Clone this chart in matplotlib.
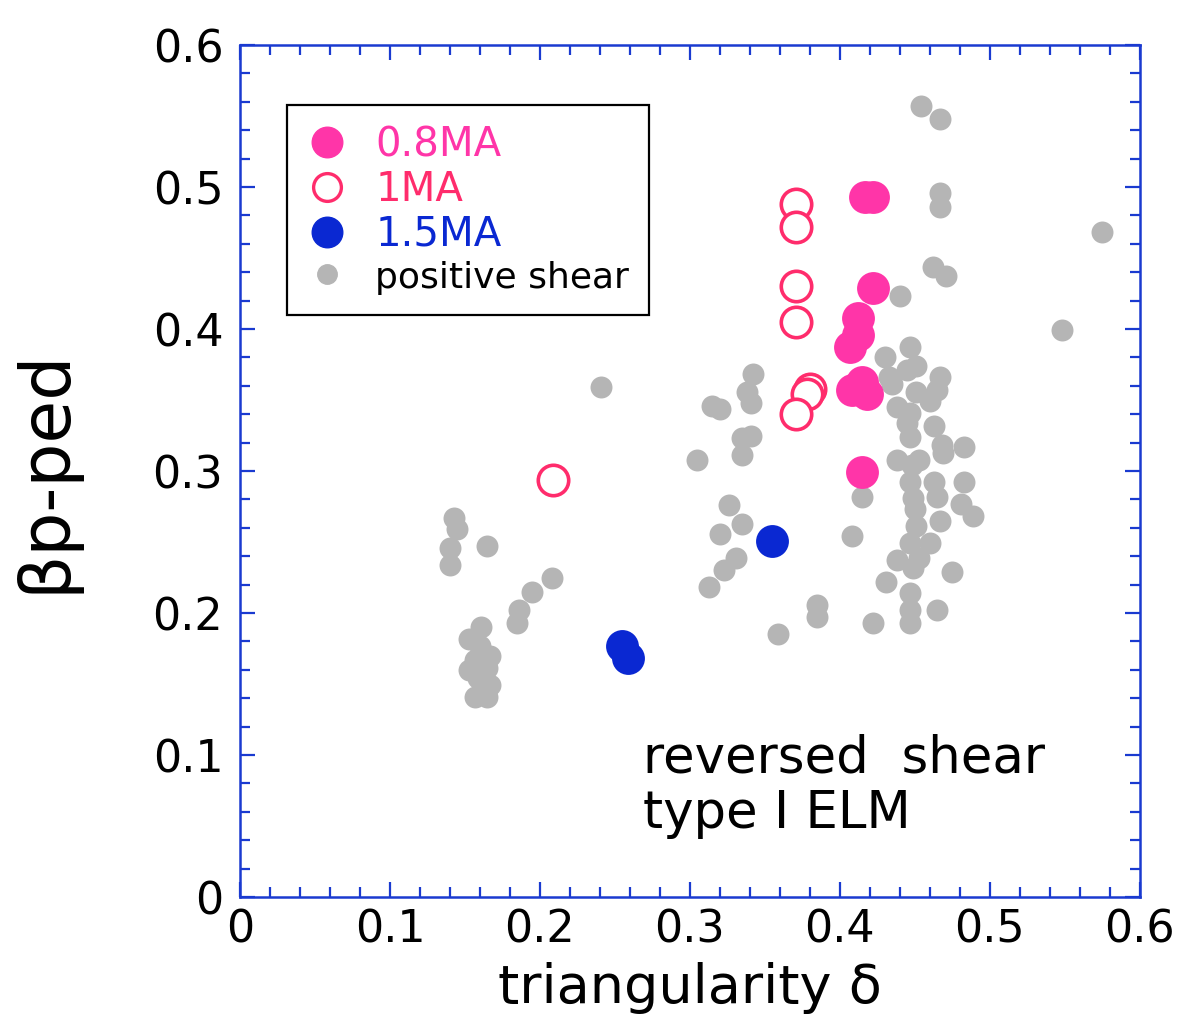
import matplotlib
matplotlib.use("Agg")
import matplotlib.pyplot as plt
from matplotlib.lines import Line2D
from matplotlib.ticker import MultipleLocator

plt.rcParams['font.family'] = ['DejaVu Sans']

# positive shear (gray)
pos_x = [0.143, 0.145, 0.140, 0.140, 0.165, 0.208, 0.195, 0.186, 0.185,
         0.161, 0.153, 0.160, 0.167, 0.157, 0.165, 0.159, 0.167, 0.157, 0.165, 0.153,
         0.241, 0.305,
         0.342, 0.338, 0.341, 0.315, 0.320, 0.341, 0.335, 0.335, 0.326, 0.335, 0.320,
         0.331, 0.323, 0.313, 0.385, 0.385, 0.359,
         0.440, 0.447, 0.430, 0.451, 0.445, 0.467, 0.433, 0.435, 0.451, 0.465, 0.460,
         0.438, 0.447, 0.445, 0.463, 0.447, 0.468, 0.469, 0.483, 0.438, 0.453, 0.448,
         0.447, 0.463, 0.483, 0.449, 0.465, 0.481, 0.450, 0.467, 0.489, 0.415, 0.451,
         0.460, 0.447, 0.453, 0.408, 0.438, 0.449, 0.431, 0.475, 0.447, 0.447, 0.465,
         0.447, 0.422,
         0.454, 0.467, 0.467, 0.467, 0.462, 0.471, 0.575, 0.548]
pos_y = [0.267, 0.259, 0.246, 0.234, 0.247, 0.225, 0.215, 0.202, 0.193,
         0.190, 0.182, 0.177, 0.170, 0.167, 0.161, 0.154, 0.149, 0.141, 0.141, 0.160,
         0.359, 0.308,
         0.368, 0.356, 0.348, 0.346, 0.344, 0.325, 0.323, 0.311, 0.276, 0.263, 0.256,
         0.239, 0.230, 0.218, 0.206, 0.197, 0.185,
         0.423, 0.387, 0.380, 0.374, 0.371, 0.366, 0.366, 0.361, 0.356, 0.357, 0.349,
         0.345, 0.341, 0.334, 0.332, 0.324, 0.318, 0.313, 0.317, 0.308, 0.308, 0.304,
         0.292, 0.292, 0.292, 0.281, 0.282, 0.277, 0.273, 0.265, 0.268, 0.282, 0.261,
         0.249, 0.249, 0.239, 0.254, 0.237, 0.232, 0.222, 0.229, 0.214, 0.202, 0.202,
         0.193, 0.193,
         0.557, 0.548, 0.496, 0.486, 0.444, 0.437, 0.468, 0.399]

# reversed shear, 0.8MA (filled pink)
ma08_x = [0.417, 0.422, 0.422, 0.412, 0.412, 0.407, 0.408, 0.418, 0.415, 0.415]
ma08_y = [0.493, 0.493, 0.429, 0.408, 0.396, 0.387, 0.357, 0.354, 0.363, 0.299]

# reversed shear, 1MA (open pink)
ma1_x = [0.371, 0.371, 0.371, 0.371, 0.380, 0.378, 0.371, 0.209]
ma1_y = [0.488, 0.472, 0.430, 0.405, 0.358, 0.354, 0.340, 0.294]

# reversed shear, 1.5MA (blue)
ma15_x = [0.355, 0.255, 0.259]
ma15_y = [0.251, 0.177, 0.168]

ticks = [0, 0.1, 0.2, 0.3, 0.4, 0.5, 0.6]
tick_labels = ['0', '0.1', '0.2', '0.3', '0.4', '0.5', '0.6']

pink = '#ff35a8'
red_pink = '#ff2c6c'
blue = '#0a28d2'
gray = '#b5b5b5'
axis_blue = '#1a3ad0'

fig = plt.figure(figsize=(11.95, 10.19), dpi=100)
ax = fig.add_axes([0.2008, 0.1197, 0.7531, 0.8361])

ax.scatter(pos_x, pos_y, s=250, color=gray, linewidths=0, zorder=2)
ax.scatter(ma08_x, ma08_y, s=560, color=pink, linewidths=0, zorder=3)
ax.scatter(ma1_x, ma1_y, s=480, facecolors='white', edgecolors=red_pink,
           linewidths=2.6, zorder=3)
ax.scatter(ma15_x, ma15_y, s=560, color=blue, linewidths=0, zorder=3)

ax.set_xlim(0, 0.6)
ax.set_ylim(0, 0.6)
ax.set_xticks(ticks)
ax.set_yticks(ticks)
ax.set_xticklabels(tick_labels)
ax.set_yticklabels(tick_labels)
ax.xaxis.set_minor_locator(MultipleLocator(0.02))
ax.yaxis.set_minor_locator(MultipleLocator(0.02))

ax.tick_params(which='both', direction='in', top=True, right=True,
               color=axis_blue, width=1.6, labelsize=32, labelcolor='black')
ax.tick_params(which='major', length=11)
ax.tick_params(which='minor', length=7)
ax.tick_params(axis='x', pad=8)
ax.tick_params(axis='y', pad=12)
for sp in ax.spines.values():
    sp.set_color(axis_blue)
    sp.set_linewidth(1.8)

ax.set_xlabel('triangularity δ', fontsize=39, labelpad=8)
ax.set_ylabel('βp-ped', fontsize=50, labelpad=53)

ax.text(0.448, 0.1467, 'reversed  shear', transform=ax.transAxes,
        fontsize=37, va='baseline', ha='left')
ax.text(0.448, 0.081, 'type I ELM', transform=ax.transAxes,
        fontsize=37, va='baseline', ha='left')

handles = [
    Line2D([], [], ls='none', marker='o', ms=22, mfc=pink, mec=pink),
    Line2D([], [], ls='none', marker='o', ms=20, mfc='white', mec=red_pink, mew=2.4),
    Line2D([], [], ls='none', marker='o', ms=22, mfc=blue, mec=blue),
    Line2D([], [], ls='none', marker='o', ms=14, mfc=gray, mec=gray),
]
labels = ['0.8MA', '1MA', '1.5MA', 'positive shear']
leg = ax.legend(handles, labels, loc='upper left', bbox_to_anchor=(0.052, 0.9296),
                borderaxespad=0, fontsize=29, labelcolor=[pink, red_pink, blue, 'black'],
                frameon=True, fancybox=False, edgecolor='black', framealpha=1,
                handlelength=1.0, handletextpad=0.7, labelspacing=0.12,
                borderpad=0.5)
leg.get_frame().set_linewidth(1.6)
leg.get_texts()[3].set_fontsize(26)

fig.savefig('out.png', dpi=100)
